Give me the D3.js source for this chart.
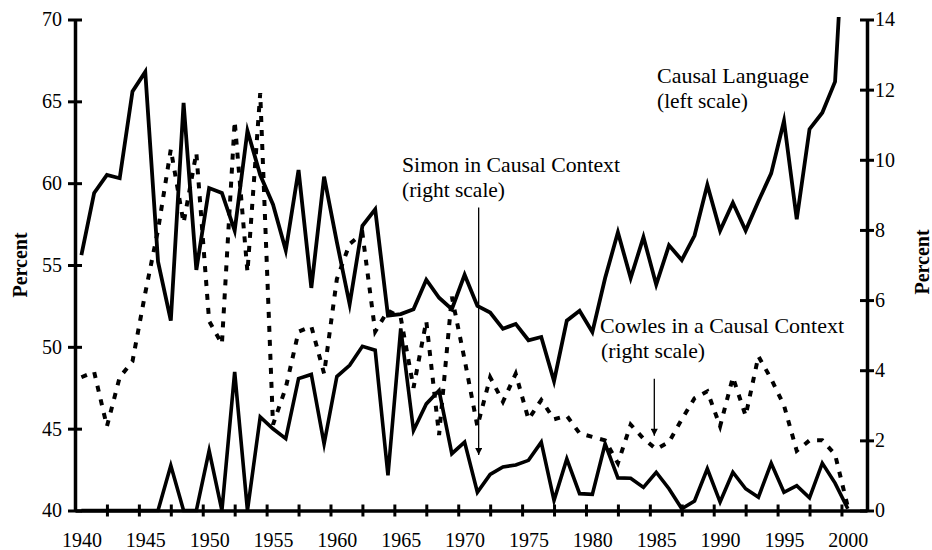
<!DOCTYPE html>
<html><head><meta charset="utf-8">
<script src="https://cdn.jsdelivr.net/npm/d3@7"></script>
<style>
body{margin:0;background:#fff}
svg{display:block}
text{font-family:"Liberation Serif","Times New Roman",serif;fill:#000}
</style>
</head><body>
<svg id="chart" width="932" height="550"></svg>
<script>
// ---- data ----
const years = d3.range(1940, 2001);
// Causal Language, left scale (last value runs off the top of the chart)
const causal = [55.6,59.4,60.5,60.3,65.6,66.8,55.2,51.6,64.9,54.7,
                59.7,59.4,57.1,63.2,60.5,58.7,55.9,60.8,53.6,60.4,
                56.4,52.6,57.4,58.4,51.9,52.0,52.3,54.1,53.0,52.3,
                54.4,52.5,52.1,51.1,51.4,50.4,50.6,47.9,51.6,52.2,
                50.9,54.2,57.0,54.2,56.7,53.8,56.2,55.3,56.8,59.9,
                57.1,58.8,57.1,58.9,60.6,63.8,57.8,63.3,64.3,66.2,80];
// Simon in Causal Context, right scale
const simon = [0,0,0,0,0,0,0,1.28,0,0,
               1.71,0,3.95,0,2.67,2.33,2.05,3.76,3.88,1.9,
               3.82,4.14,4.68,4.57,1.0,5.19,2.28,3.04,3.42,1.62,
               1.95,0.52,1.03,1.24,1.3,1.43,1.95,0.29,1.47,0.48,
               0.46,1.9,0.93,0.92,0.66,1.09,0.62,0.05,0.27,1.19,
               0.24,1.09,0.62,0.38,1.35,0.52,0.71,0.36,1.35,0.78,0.05];
// Cowles in a Causal Context, right scale
const cowles = [3.8,3.95,2.4,3.8,4.25,6.2,8.0,10.3,8.2,10.2,
                5.4,4.75,11.1,6.8,11.9,2.45,3.5,5.1,5.25,3.9,
                6.6,7.6,7.9,5.1,5.7,5.5,3.5,5.4,2.15,6.1,
                4.3,2.4,3.8,3.1,3.9,2.6,3.15,2.6,2.7,2.2,
                2.1,2.0,1.35,2.45,2.05,1.75,1.95,2.6,3.2,3.4,
                2.4,3.8,2.7,4.4,3.75,3.0,1.7,2.0,2.0,1.6,0.1];
const leftTicks = [40,45,50,55,60,65,70];
const rightTicks = [0,2,4,6,8,10,12,14];
const xLabels = [1940,1945,1950,1955,1960,1965,1970,1975,1980,1985,1990,1995,2000];
const xTickMarks = d3.range(1942, 2000, 2.5);

// ---- scales ----
const svg = d3.select("#chart");
const x = d3.scaleLinear().domain([1939.5, 2001.5]).range([75, 867]);
const yL = d3.scaleLinear().domain([40, 70]).range([510.5, 19.5]);
const yR = d3.scaleLinear().domain([0, 14]).range([510.5, 19.5]);

svg.append("defs").append("clipPath").attr("id","plot")
  .append("rect").attr("x",75).attr("y",17).attr("width",792).attr("height",496);
const mk = svg.select("defs").append("marker").attr("id","arr")
  .attr("viewBox","0 0 10 10").attr("refX",10).attr("refY",5)
  .attr("markerWidth",10).attr("markerHeight",7).attr("markerUnits","userSpaceOnUse")
  .attr("orient","auto");
mk.append("path").attr("d","M0,0 L10,5 L0,10 Z").attr("fill","#000");

const plot = svg.append("g").attr("clip-path","url(#plot)");
const lineL = d3.line().x((d,i)=>x(years[i])).y(d=>yL(d));
const lineR = d3.line().x((d,i)=>x(years[i])).y(d=>yR(d));

plot.append("path").datum(cowles).attr("d", lineR)
  .attr("fill","none").attr("stroke","#000").attr("stroke-width",4)
  .attr("stroke-dasharray","6,8");
plot.append("path").datum(simon).attr("d", lineR)
  .attr("fill","none").attr("stroke","#000").attr("stroke-width",3.6)
  .attr("stroke-linejoin","miter").attr("stroke-miterlimit",6);
plot.append("path").datum(causal).attr("d", lineL)
  .attr("fill","none").attr("stroke","#000").attr("stroke-width",3.8)
  .attr("stroke-linejoin","miter").attr("stroke-miterlimit",6);

// ---- axes ----
function styleAxis(g){
  g.select(".domain").attr("stroke","#000").attr("stroke-width",3.5);
  g.selectAll(".tick line").attr("stroke","#000").attr("stroke-width",3);
  g.selectAll(".tick text").attr("font-size",20).attr("font-family","Liberation Serif, serif").attr("fill","#000");
}
const gl = svg.append("g").attr("transform","translate(75,0)")
  .call(d3.axisLeft(yL).tickValues(leftTicks).tickSizeInner(7).tickSizeOuter(0).tickPadding(6));
gl.selectAll(".tick line").attr("x1",7);
styleAxis(gl);

const gr = svg.append("g").attr("transform","translate(867,0)")
  .call(d3.axisRight(yR).tickValues(rightTicks).tickSizeInner(7).tickSizeOuter(0).tickPadding(1));
gr.selectAll(".tick line").attr("x1",-7);
styleAxis(gr);

const gx = svg.append("g").attr("transform","translate(0,510.5)")
  .call(d3.axisBottom(x).tickValues(xTickMarks).tickFormat("").tickSizeInner(6).tickSizeOuter(0));
gx.selectAll(".tick line").attr("y1",-6);
styleAxis(gx);

const gxl = svg.append("g").attr("transform","translate(0,510.5)")
  .call(d3.axisBottom(x).tickValues(xLabels).tickFormat(d3.format("d")).tickSize(0).tickPadding(22));
gxl.select(".domain").remove();
styleAxis(gxl);

// ---- axis titles ----
svg.append("text").attr("transform","translate(27,265) rotate(-90)")
  .attr("text-anchor","middle").attr("font-size",20).attr("font-weight","bold").text("Percent");
svg.append("text").attr("transform","translate(929,262) rotate(-90)")
  .attr("text-anchor","middle").attr("font-size",20).attr("font-weight","bold").text("Percent");

// ---- annotations ----
function label(t, px, py, w){
  svg.append("text").attr("x",px).attr("y",py).attr("font-size",21)
    .attr("textLength",w).attr("lengthAdjust","spacingAndGlyphs").text(t);
}
label("Causal Language", 657, 83, 152);
label("(left scale)", 657, 108, 91);
label("Simon in Causal Context", 402, 172, 218);
label("(right scale)", 402, 197, 103);
label("Cowles in a Causal Context", 600, 333, 244);
label("(right scale)", 601, 358, 104);

function arrow(yr, v0, v1){
  svg.append("line").attr("x1",x(yr)).attr("x2",x(yr))
    .attr("y1",yR(v0)).attr("y2",yR(v1))
    .attr("stroke","#000").attr("stroke-width",1.3).attr("marker-end","url(#arr)");
}
arrow(1971.1, 8.64, 1.58);
arrow(1984.85, 3.76, 2.13);
</script>
</body></html>
